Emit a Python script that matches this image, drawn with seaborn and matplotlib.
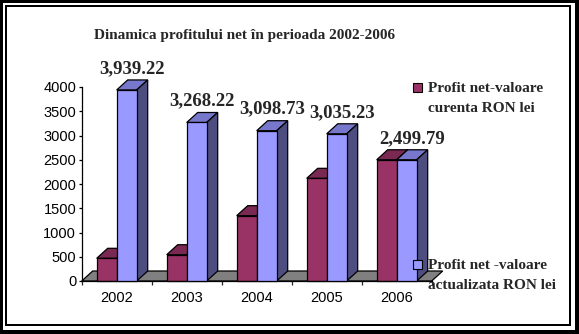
import numpy as np
import pandas as pd
import matplotlib
matplotlib.use("Agg")
import matplotlib.pyplot as plt
from matplotlib.patches import Polygon, Rectangle
import seaborn as sns

# ---- data ----
years = ["2002", "2003", "2004", "2005", "2006"]
profit_curent = [468, 542, 1347, 2117, 2499.79]
profit_actualizat = [3939.22, 3268.22, 3098.73, 3035.23, 2499.79]
series_names = ["Profit net-valoare curenta RON lei",
                "Profit net -valoare actualizata RON lei"]
title = "Dinamica profitului net în perioada 2002-2006"

df = pd.DataFrame({
    "An": years * 2,
    "Valoare": profit_curent + profit_actualizat,
    "Serie": [series_names[0]] * 5 + [series_names[1]] * 5,
})

sns.set_style("white")
plt.rcParams["font.family"] = ["Liberation Sans", "DejaVu Sans"]

W, H = 579, 334
fig = plt.figure(figsize=(W / 100, H / 100), dpi=100)
fig.patch.set_facecolor("white")

# axes in pixel layout
x0p, x1p = 81.7, 431.7
y0p, y1p = 281.0, 87.0
ax = fig.add_axes([x0p / W, (H - y0p) / H, (x1p - x0p) / W, (y0p - y1p) / H])
ax.set_facecolor("none")

front = {"red": "#993366", "blue": "#9999ff"}
top = {"red": "#7a2952", "blue": "#7777cc"}
side = {"red": "#5c1f3d", "blue": "#4d4d80"}

sns.barplot(data=df, x="An", y="Valoare", hue="Serie",
            palette=[front["red"], front["blue"]], saturation=1,
            width=40 / 70, edgecolor="black", linewidth=0.9,
            legend=False, ax=ax)

ax.set_xlim(-0.5, 4.5)
ax.set_ylim(0, 4000)

px_x = 5.0 / (x1p - x0p)         # data units per pixel (x)
px_y = 4000.0 / (y0p - y1p)      # data units per pixel (y)
dx = 11 * px_x
dy = 10 * px_y

# floor
floor = Polygon([(-0.5, 0), (4.5, 0), (4.5 + dx, dy), (-0.5 + dx, dy)],
                closed=True, facecolor="#808080", edgecolor="black",
                linewidth=0.9, zorder=0.5, clip_on=False)
ax.add_patch(floor)

keys = ["red", "blue"]
for ci, cont in enumerate(ax.containers):
    k = keys[ci]
    base_z = 1 + 2 * ci
    for bar in cont:
        bx = bar.get_x()
        bw = bar.get_width()
        bh = bar.get_height()
        bar.set_zorder(base_z + 1)
        bar.set_clip_on(False)
        tp = Polygon([(bx, bh), (bx + bw, bh), (bx + bw + dx, bh + dy), (bx + dx, bh + dy)],
                     closed=True, facecolor=top[k], edgecolor="black",
                     linewidth=0.9, zorder=base_z, clip_on=False)
        sd = Polygon([(bx + bw, 0), (bx + bw + dx, dy), (bx + bw + dx, bh + dy), (bx + bw, bh)],
                     closed=True, facecolor=side[k], edgecolor="black",
                     linewidth=0.9, zorder=base_z, clip_on=False)
        ax.add_patch(tp)
        ax.add_patch(sd)
        if k == "blue":
            ax.annotate(f"{bh:,.2f}", (bx + bw / 2 + dx / 2, bh + dy),
                        xytext=(0, 7), textcoords="offset pixels",
                        ha="center", va="baseline", fontsize=13.5,
                        fontweight="bold", family=["Liberation Serif", "DejaVu Serif"],
                        annotation_clip=False, zorder=10)

# axes styling
for s in ["top", "right"]:
    ax.spines[s].set_visible(False)
for s in ["left", "bottom"]:
    ax.spines[s].set_color("black")
    ax.spines[s].set_linewidth(0.9)
ax.set_yticks(np.arange(0, 4001, 500))
ax.set_xticks(range(5))
ax.set_xticklabels(years)
ax.set_xticks(np.arange(-0.5, 4.6, 1), minor=True)
ax.tick_params(axis="y", direction="out", length=2.5, width=0.9, left=True,
               labelsize=10.5, pad=1.5, colors="black")
ax.tick_params(axis="x", which="major", length=0, labelsize=10.5, pad=7, colors="black")
ax.tick_params(axis="x", which="minor", direction="out", length=3, width=0.9, bottom=True)
ax.set_xlabel("")
ax.set_ylabel("")
ax.grid(False)

serif = ["Liberation Serif", "DejaVu Serif"]

# title
fig.text(245 / W, 1 - 39 / H, title, ha="center", va="baseline",
         fontsize=11, fontweight="bold", family=serif)

# legend (manual)
leg = [
    (front["red"], 83, ["Profit net-valoare", "curenta RON lei"], [92.3, 111.7]),
    (front["blue"], 259.5, ["Profit net -valoare", "actualizata RON lei"], [269.3, 289]),
]
for col, sq_top, lines, bases in leg:
    fig.patches.append(Rectangle((413 / W, 1 - (sq_top + 9) / H), 9 / W, 9 / H,
                                 transform=fig.transFigure, facecolor=col,
                                 edgecolor="black", linewidth=0.8, zorder=5))
    for ln, b in zip(lines, bases):
        fig.text(428 / W, 1 - b / H, ln, ha="left", va="baseline",
                 fontsize=11, fontweight="bold", family=serif, zorder=6)

# borders (inner thin frame + outer shadowed frame)
def frame(x0, y0, x1, y1, lw_px):
    rects = [
        (x0, y0, x1 - x0, lw_px),
        (x0, y1 - lw_px, x1 - x0, lw_px),
        (x0, y0, lw_px, y1 - y0),
        (x1 - lw_px, y0, lw_px, y1 - y0),
    ]
    for rx, ry, rw, rh in rects:
        fig.patches.append(Rectangle((rx / W, 1 - (ry + rh) / H), rw / W, rh / H,
                                     transform=fig.transFigure, facecolor="black",
                                     edgecolor="none", zorder=20))

frame(5, 5, 571, 326, 2)
frame(0, 0, 579, 334, 3)
fig.patches.append(Rectangle((575 / W, 0), 4 / W, 1, transform=fig.transFigure,
                             facecolor="black", edgecolor="none", zorder=20))
fig.patches.append(Rectangle((0, 0), 1, 4 / H, transform=fig.transFigure,
                             facecolor="black", edgecolor="none", zorder=20))

fig.savefig("out.png", dpi=100)
